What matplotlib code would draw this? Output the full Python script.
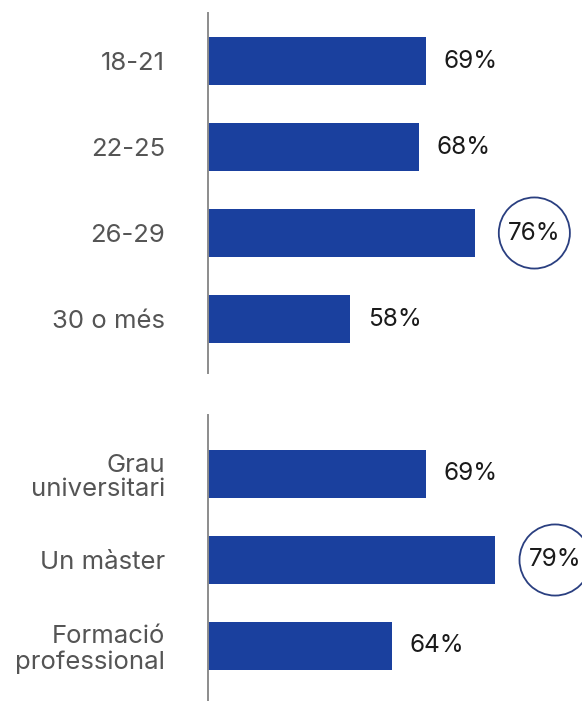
import matplotlib.pyplot as plt

# data
age_groups = ['18-21', '22-25', '26-29', '30 o més']
age_values = [69, 68, 76, 58]
studies = ['Grau\nuniversitari', 'Un màster', 'Formació\nprofessional']
study_values = [69, 79, 64]
highlighted = ['26-29', 'Un màster']

BLUE = '#1a409e'
AXIS_GREY = '#8c8c8c'
LABEL_GREY = '#555555'
VALUE_COLOR = '#1a1a1a'

plt.rcParams['font.family'] = ['Inter', 'DejaVu Sans']

W, H = 582, 701
fig = plt.figure(figsize=(W / 100, H / 100), dpi=100)

x0 = 208  # axis line position in pixels
XMIN, XMAX = 37.35, 91.55


def panel(top_px, bottom_px, cats, vals, ylim):
    ax = fig.add_axes([x0 / W, 1 - bottom_px / H, 1 - x0 / W,
                       (bottom_px - top_px) / H])
    ax.barh(range(len(cats)), vals, height=0.56, color=BLUE, left=0)
    ax.set_xlim(XMIN, XMAX)
    ax.set_ylim(*ylim)
    ax.set_yticks(range(len(cats)))
    ax.set_yticklabels(cats, fontsize=18.5, color=LABEL_GREY,
                       multialignment='right', linespacing=1.1)
    ax.tick_params(axis='y', length=0, pad=31)
    ax.set_xticks([])
    for s in ['top', 'right', 'bottom']:
        ax.spines[s].set_visible(False)
    ax.spines['left'].set_color(AXIS_GREY)
    ax.spines['left'].set_linewidth(1.4)
    ax.patch.set_alpha(0)

    for i, (c, v) in enumerate(zip(cats, vals)):
        if c in highlighted:
            ax.annotate(f'{v}%', xy=(v, i), xytext=(24, 0),
                        textcoords='offset points', va='center', ha='left',
                        fontsize=17.5, color=VALUE_COLOR, annotation_clip=False,
                        bbox=dict(boxstyle='circle,pad=0.38', fc='none',
                                  ec='#2a3f80', lw=1.3))
        else:
            ax.annotate(f'{v}%', xy=(v, i), xytext=(12.5, 0),
                        textcoords='offset points', va='center', ha='left',
                        fontsize=17.5, color=VALUE_COLOR)
    return ax


panel(13, 373, age_groups, age_values, (3 + 54 / 86, -48 / 86))
panel(415, 701, studies, study_values, (2 + 55 / 86, -59 / 86))

fig.savefig('out.png', dpi=100)
